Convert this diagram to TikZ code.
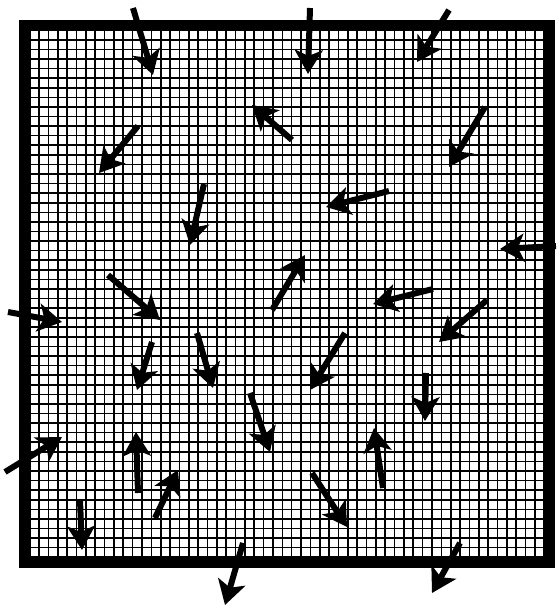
\documentclass[tikz,border=0pt]{standalone}
\usepackage{tikz}
\usetikzlibrary{arrows.meta}
\tikzset{
  %% Frame and mesh
  fieldFrame/.style={draw=black, line width=10.5pt},
  fieldMesh/.style={draw=black, line width=1.6pt},
  %% Flow arrows
  flowArr/.style={-{Stealth[length=24pt, width=28pt, inset=6pt]}, line width=6pt, black},
}

\begin{document}
\begin{tikzpicture}[x=1pt, y=-1pt]
\useasboundingbox (0,0) rectangle (557,608);

%% mesh inside the frame
\foreach \k in {0,...,55} {
  \draw[fieldMesh] ({29.75+\k*9.3545},30.25) -- ({29.75+\k*9.3545},557.25);
  \draw[fieldMesh] (29.75,{30.25+\k*9.5818}) -- (544.25,{30.25+\k*9.5818});
}
\draw[fieldFrame] (24.5,25) rectangle (549.5,562.5);

%% arrows: tail / head
\foreach \i/\tx/\ty/\hx/\hy in {
  1/133/8/153/75, 2/310/8/308/74, 3/449/10/417/62,
  4/292/140/252/105, 5/138/126/99/173, 6/485/107/449/167,
  7/204/184/190/245, 8/389/191/326/207, 9/556/246/500/249,
  10/272/310/305/255, 11/108/275/160/320, 12/433/289/373/304,
  13/487/300/439/342, 14/8/312/62/322, 15/152/342/137/390,
  16/197/333/213/388, 17/345/333/310/390, 18/426/373/425/421,
  19/250/393/270/452, 20/5/472/62/437, 21/138/493/136/432,
  22/155/518/178/470, 23/383/488/374/428, 24/312/473/347/527,
  25/80/500/82/550, 26/243/543/225/605, 27/460/543/432/593} {
  \coordinate (t\i) at (\tx,\ty);
  \coordinate (h\i) at (\hx,\hy);
  \draw[flowArr] (t\i) -- (h\i);
}
\end{tikzpicture}
\end{document}
